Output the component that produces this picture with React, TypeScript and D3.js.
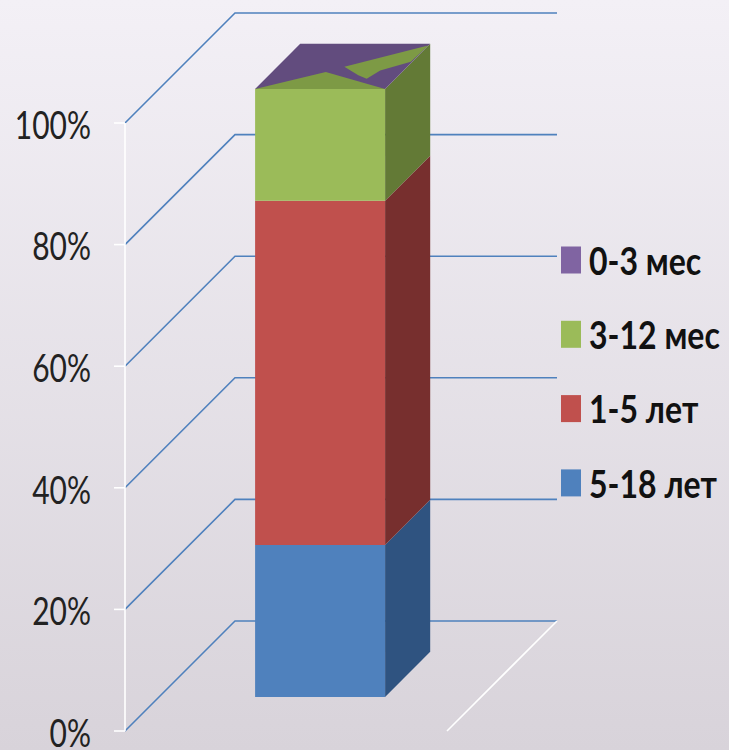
import React from "react";
import * as d3 from "d3";

const categories = ["all"];
const seriesNames = ["5-18 лет", "1-5 лет", "3-12 мес", "0-3 мес"];
const seriesValues = [0.25, 0.566, 0.184, 0.0];
const frontColors = ["#4F81BD", "#C0504D", "#9BBB59", "#8064A2"];
const sideColors = ["#2F5380", "#772F2E", "#637A36", "#604A7B"];
const topColors = ["#3E6A9E", "#9E3E3B", "#7D9A45", "#624C7E"];
const tickValues = [0, 0.2, 0.4, 0.6, 0.8, 1.0];
const legendOrder = ["0-3 мес", "3-12 мес", "1-5 лет", "5-18 лет"];

const W = 729;
const H = 750;
const axisX = 125;
const plotRight = 447;
const depth = 110;
const barD0 = 0.31;
const barD1 = 0.72;

export default function App() {
  const y = d3.scaleLinear().domain([0, 1]).range([731, 123]);
  const x = d3.scaleBand().domain(categories).range([axisX, plotRight]).paddingInner(0).paddingOuter(0.7385);
  const proj = (px: number, py: number, d: number): [number, number] => [px + depth * d, py - depth * d];
  const line = d3.line();

  const stacked: { name: string; y0: number; y1: number; i: number }[] = [];
  let acc = 0;
  seriesValues.forEach((v, i) => {
    stacked.push({ name: seriesNames[i], y0: acc, y1: acc + v, i });
    acc += v;
  });

  const bx0 = x("all") as number;
  const bx1 = bx0 + x.bandwidth();

  const poly = (pts: [number, number][]) => line(pts) + "Z";

  const topVal = acc;
  const topFace: [number, number][] = [
    proj(bx0, y(topVal), barD0),
    proj(bx1, y(topVal), barD0),
    proj(bx1, y(topVal), barD1),
    proj(bx0, y(topVal), barD1),
  ];
  const topPt = (u: number, v: number): [number, number] =>
    proj(bx0 + u * (bx1 - bx0), y(topVal), barD0 + v * (barD1 - barD0));
  const artifact1: [number, number][] = [topPt(0, 0), topPt(0.413, 0.376), topPt(1, 0)];
  const artifact2: [number, number][] = [
    topPt(0.517, 0.489), topPt(0.951, 0.917), topPt(1, 0.96), topPt(0.99, 0.6),
    topPt(0.82, 0.41), topPt(0.78, 0.226), topPt(0.69, 0.3),
  ];

  const textT = (tx: number, ty: number, sy: number) => `translate(${tx},${ty}) scale(1,${sy})`;

  return (
    <svg width={W} height={H} style={{ position: "absolute", left: 0, top: 0, display: "block" }}>
      <defs>
        <linearGradient id="bg" x1="0" y1="0" x2="0" y2="1">
          <stop offset="0" stopColor="#F3F0F6" />
          <stop offset="1" stopColor="#D8D3DA" />
        </linearGradient>
      </defs>
      <rect x={0} y={0} width={W} height={H} fill="url(#bg)" />

      {tickValues.map((t) => {
        const p0: [number, number] = [axisX, y(t)];
        const p1 = proj(axisX, y(t), 1);
        const p2 = proj(plotRight, y(t), 1);
        return <path key={t} d={line([p0, p1, p2]) as string} fill="none" stroke="#4F81BD" strokeWidth={1.6} />;
      })}

      <path d={line([[plotRight, y(0)], proj(plotRight, y(0), 1)]) as string} stroke="#FFFFFF" strokeWidth={1.6} fill="none" />

      <line x1={axisX} x2={axisX} y1={y(1)} y2={y(0)} stroke="#FFFFFF" strokeWidth={1.6} />
      {tickValues.map((t) => (
        <line key={"t" + t} x1={axisX - 11} x2={axisX} y1={y(t)} y2={y(t)} stroke="#FFFFFF" strokeWidth={1.6} />
      ))}
      {tickValues.map((t) => (
        <text
          key={"l" + t}
          transform={textT(91, y(t), 1.32)}
          textAnchor="end"
          dominantBaseline="central"
          fontFamily="Lato, 'Open Sans', sans-serif"
          fontSize={30}
          fill="#222"
        >
          {Math.round(t * 100)}%
        </text>
      ))}

      {stacked.map((s) => {
        if (s.y1 - s.y0 <= 0) return null;
        const front: [number, number][] = [
          proj(bx0, y(s.y1), barD0),
          proj(bx1, y(s.y1), barD0),
          proj(bx1, y(s.y0), barD0),
          proj(bx0, y(s.y0), barD0),
        ];
        const side: [number, number][] = [
          proj(bx1, y(s.y1), barD0),
          proj(bx1, y(s.y1), barD1),
          proj(bx1, y(s.y0), barD1),
          proj(bx1, y(s.y0), barD0),
        ];
        return (
          <g key={s.name}>
            <path d={poly(front)} fill={frontColors[s.i]} />
            <path d={poly(side)} fill={sideColors[s.i]} />
          </g>
        );
      })}
      <path d={poly(topFace)} fill={topColors[3]} />
      <path d={poly(artifact1)} fill={topColors[2]} />
      <path d={poly(artifact2)} fill={topColors[2]} />

      {legendOrder.map((name, k) => {
        const i = seriesNames.indexOf(name);
        const cy = 260 + k * 74.3;
        return (
          <g key={name}>
            <rect x={561} y={cy - 13.5} width={20} height={27} fill={frontColors[i]} />
            <text
              transform={textT(589, cy, 1.22)}
              dominantBaseline="central"
              fontFamily="Lato, 'Open Sans', sans-serif"
              fontWeight="bold"
              fontSize={32}
              fill="#111"
            >
              {name}
            </text>
          </g>
        );
      })}
    </svg>
  );
}
